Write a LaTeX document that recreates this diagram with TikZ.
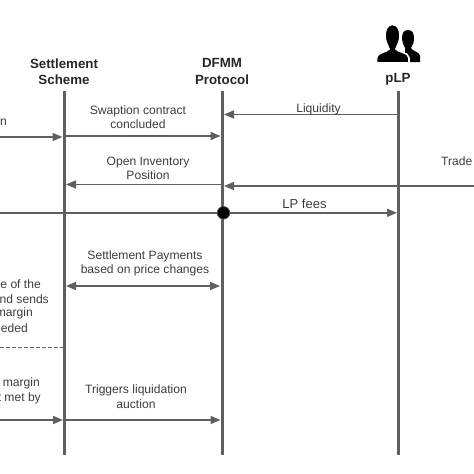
\documentclass[tikz,border=0pt]{standalone}
\usepackage{fontspec}
\setmainfont{Liberation Sans}
\usepackage{xcolor}
\usetikzlibrary{arrows.meta,positioning}
\definecolor{linecolor}{RGB}{95,95,95}
\definecolor{textcolor}{RGB}{60,60,60}
\begin{document}
\begin{tikzpicture}[x=1pt,y=-1pt,
  actor/.style={font=\fontsize{13.3}{16.5}\selectfont\bfseries,text=black!85,align=center,inner sep=0pt},
  msg/.style={font=\fontsize{12.1}{14.6}\selectfont,text=textcolor,align=center,inner sep=0pt},
  life/.style={draw=linecolor,line width=3pt},
  call/.style={draw=linecolor,line width=1.7pt,-{Triangle[length=10pt,width=8pt]}},
  both/.style={draw=linecolor,line width=1.7pt,{Triangle[length=10pt,width=8pt]}-{Triangle[length=10pt,width=8pt]}},
  plainline/.style={draw=linecolor,line width=1.7pt},
  sep/.style={draw=linecolor,line width=0.9pt,dash pattern=on 3.5pt off 2.5pt},
  dot/.style={circle,fill=black,draw=black!70,line width=0.8pt,inner sep=0pt,minimum size=12.5pt}]
\useasboundingbox (0,0) rectangle (474,474);
\clip (0,0) rectangle (474,474);
% lifelines
\node[actor] (ss) at (64,71.5) {Settlement\\Scheme};
\node[actor] (dfmm) at (222,71.5) {DFMM\\Protocol};
\node[actor] (plp) at (398,79) {pLP};
\foreach \n/\x in {a/64,b/222,c/398}{
  \coordinate (\n0) at (\x,91);
  \coordinate (\n1) at (\x,455);
  \draw[life] (\n0)--(\n1);}
% people icon
\fill[black] (408,30) .. controls (404,30) and (402,33) .. (402,38)
  .. controls (402,42) and (404,46) .. (405,48) -- (405,62) -- (420,62) -- (420,56)
  .. controls (420,52) and (412,51) .. (411,48)
  .. controls (413,45) and (414,42) .. (414,38)
  .. controls (414,33) and (412,30) .. (408,30) -- cycle;
\filldraw[fill=black,draw=white,line width=1.6pt] (392.5,24.5) .. controls (387,24.5) and (385,30) .. (385,36)
  .. controls (385,41) and (388,46) .. (389,49)
  .. controls (388,52) and (376.5,52) .. (376.5,58) -- (376.5,62.8) -- (409,62.8) -- (409,58)
  .. controls (409,52) and (397,52) .. (396,49)
  .. controls (397,46) and (400,41) .. (400,36)
  .. controls (400,30) and (398,24.5) .. (392.5,24.5) -- cycle;
% messages
\coordinate (liqa) at (398,114.5);
\coordinate (liqb) at (224,114.5);
\draw[call] (liqa)--(liqb);
\node[msg] (liq) at (318.5,109) {Liquidity};
\coordinate (swl) at (0,137);
\coordinate (swm) at (62.5,137);
\draw[call] (swl)--(swm);
\node[msg,anchor=east] (swn) at (7,122.5) {n};
\coordinate (swa) at (64,136);
\coordinate (swb) at (220.5,136);
\draw[call] (swa)--(swb);
\node[msg] (sw) at (138,117) {Swaption contract\\concluded};
\coordinate (oia) at (222,184.5);
\coordinate (oib) at (66,184.5);
\draw[call] (oia)--(oib);
\node[msg] (oi) at (148,168.5) {Open Inventory\\Position};
\coordinate (tra) at (474,186);
\coordinate (trb) at (224,186);
\draw[call] (tra)--(trb);
\node[msg,anchor=west] (tr) at (441,161) {Trade};
\coordinate (lpl) at (0,212.8);
\node[dot] (lpd) at (223.5,212.8) {};
\coordinate (lpr) at (397,212.8);
\draw[plainline] (lpl)--(lpd);
\draw[call] (lpd)--(lpr);
\node[msg,font=\fontsize{13}{15}\selectfont] (lp) at (304.5,204) {LP fees};
\coordinate (spa) at (66,286);
\coordinate (spb) at (220,286);
\draw[both] (spa)--(spb);
\node[msg] (sp) at (145,263.5) {Settlement Payments\\based on price changes};
\node[msg,anchor=east] (ma1) at (41,284.5) {e of the};
\node[msg,anchor=east] (ma2) at (49,299) {nd sends};
\node[msg,anchor=east] (ma3) at (33,313.5) {margin};
\node[msg,anchor=east] (ma4) at (28,328) {eded};
\coordinate (sepa) at (0,347);
\coordinate (sepb) at (63,347);
\draw[sep] (sepa)--(sepb);
\node[msg,anchor=east] (mb1) at (40,383.5) {margin};
\node[msg,anchor=east] (mb2) at (41,398) {t met by};
\coordinate (mcl) at (0,420);
\coordinate (mcm) at (63,420);
\draw[call] (mcl)--(mcm);
\coordinate (lqa) at (64,420);
\coordinate (lqb) at (220.5,420);
\draw[call] (lqa)--(lqb);
\node[msg] (lq) at (136,396.5) {Triggers liquidation\\auction};
\end{tikzpicture}
\end{document}
